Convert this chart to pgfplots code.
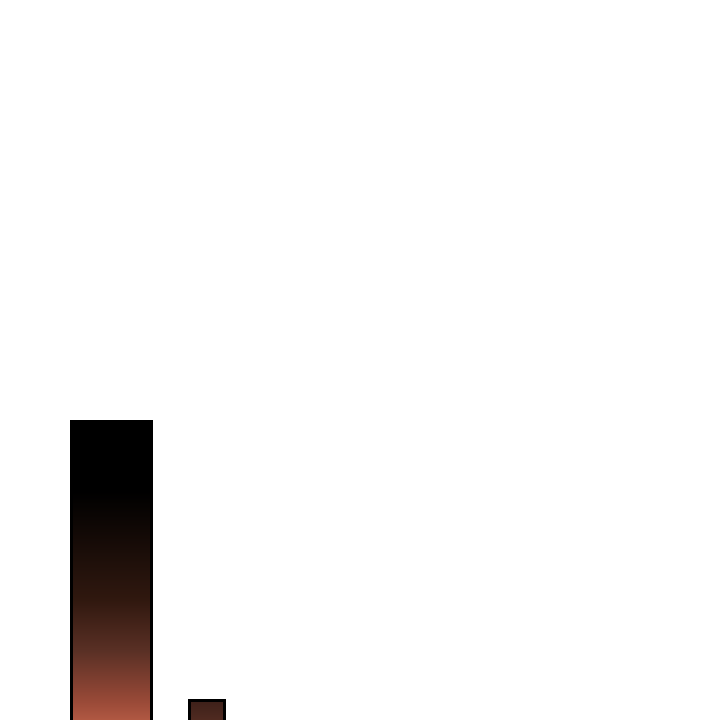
\documentclass[border=0pt]{standalone}
\usepackage{pgfplots}
\pgfplotsset{compat=1.18}
\definecolor{barlow}{HTML}{BA5E47}
\definecolor{barmid}{HTML}{9A4A38}
\definecolor{barbrown}{HTML}{5A3025}
\definecolor{bardark}{HTML}{30180F}
\pgfdeclareverticalshading{tallbar}{100bp}{%
  color(0bp)=(barlow); color(27bp)=(barlow); color(31bp)=(barmid);
  color(39bp)=(barbrown); color(47bp)=(bardark); color(64bp)=(black);
  color(75bp)=(black); color(100bp)=(black)}
\begin{document}
\begin{tikzpicture}
\begin{axis}[
    scale only axis,
    width=10cm, height=10cm,
    xmin=0, xmax=720,
    ymin=0, ymax=720,
    axis line style={draw=none},
    ticks=none,
    axis background/.style={fill=white},
]
% pixel-based values: y = 720 - pixel row; bars run below the frame
\addplot[draw=black, line width=1.2pt, shading=tallbar]
    coordinates {(71.5,-20) (71.5,298.5) (151.5,298.5) (151.5,-20)};
\addplot[draw=black, line width=1.2pt,
    top color=black!20!barbrown!85!black, bottom color=barbrown!90!barlow]
    coordinates {(189.5,-20) (189.5,19.5) (224.5,19.5) (224.5,-20)};
\end{axis}
\end{tikzpicture}
\end{document}
